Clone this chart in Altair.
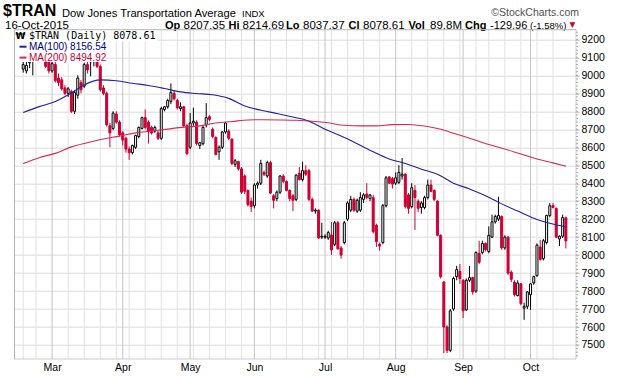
import altair as alt
import pandas as pd

# ---------------- data ----------------
first_index = -9  # trading-day index of first bar (0 = 2-Mar-2015)
opens = [9035, 9025, 9070, 9080, 9100, 9140, 9160, 9120, 9080,
         9025, 9060, 8985, 8975, 8930, 8900, 8910, 8800, 8890, 8960,
         8940, 9060, 9075, 9085, 9090, 9050, 8930, 8900, 8720, 8705,
         8785, 8740, 8680, 8650, 8590, 8570, 8600, 8660, 8705, 8765,
         8740, 8710, 8690, 8680, 8650, 8810, 8825, 8855, 8900, 8860,
         8815, 8825, 8720, 8600, 8735, 8740, 8610, 8620, 8725, 8770,
         8700, 8655, 8575, 8600, 8685, 8690, 8645, 8505, 8520, 8480,
         8440, 8360, 8300, 8275, 8390, 8400, 8460, 8440, 8515, 8330,
         8315, 8350, 8440, 8410, 8360, 8330, 8310, 8455, 8420, 8470,
         8470, 8310, 8245, 8250, 8100, 8100, 8095, 8112, 8060, 8180,
         8040, 8070, 8200, 8250, 8310, 8245, 8250, 8310, 8340, 8315,
         8320, 8165, 8060, 8070, 8275, 8435, 8425, 8400, 8405, 8440,
         8450, 8335, 8270, 8360, 8300, 8265, 8265, 8320, 8390, 8360,
         8300, 8110, 7850, 7600, 7470, 7700, 7880, 7910, 7860, 7695,
         7860, 7875, 7800, 8010, 8015, 8065, 8020, 8100, 8185, 8200,
         8215, 8040, 8100, 7905, 7850, 7775, 7840, 7705, 7715, 7780,
         7845, 7885, 8045, 7980, 8070, 8220, 8275, 8260, 8090, 8105,
         8207.35]
highs = [9090, 9085, 9100, 9130, 9150, 9180, 9190, 9140, 9100,
         9090, 9075, 9010, 8990, 8945, 8935, 8920, 8915, 9000, 8975,
         9070, 9075, 9095, 9110, 9110, 9060, 8945, 8910, 8735, 8800,
         8800, 8750, 8690, 8660, 8605, 8615, 8670, 8715, 8770, 8810,
         8750, 8720, 8720, 8690, 8825, 8830, 8870, 8955, 8915, 8870,
         8850, 8830, 8730, 8790, 8820, 8750, 8630, 8720, 8845, 8780,
         8710, 8660, 8610, 8690, 8740, 8700, 8650, 8535, 8525, 8490,
         8450, 8365, 8320, 8400, 8410, 8530, 8470, 8525, 8525, 8340,
         8360, 8445, 8450, 8415, 8365, 8340, 8450, 8490, 8520, 8500,
         8480, 8320, 8260, 8255, 8180, 8115, 8135, 8184, 8190, 8190,
         8050, 8190, 8300, 8330, 8320, 8315, 8350, 8345, 8400, 8340,
         8335, 8175, 8070, 8285, 8440, 8440, 8435, 8460, 8500, 8540,
         8455, 8345, 8400, 8390, 8310, 8300, 8330, 8420, 8420, 8365,
         8305, 8115, 7855, 7610, 7700, 7880, 7940, 7950, 7865, 7870,
         7940, 7880, 8020, 8080, 8080, 8070, 8160, 8225, 8225, 8325,
         8220, 8110, 8105, 7915, 7860, 7860, 7845, 7735, 7800, 7845,
         7885, 8065, 8085, 8090, 8225, 8290, 8290, 8265, 8110, 8225,
         8214.69]
lows = [9015, 9010, 9040, 9000, 9085, 9110, 9120, 9040, 9010,
        9015, 8960, 8940, 8915, 8890, 8880, 8790, 8785, 8870, 8900,
        8930, 9010, 8995, 9050, 9040, 8910, 8890, 8715, 8600, 8695,
        8730, 8660, 8610, 8570, 8530, 8560, 8590, 8650, 8700, 8700,
        8620, 8670, 8680, 8640, 8640, 8800, 8815, 8840, 8860, 8810,
        8800, 8710, 8555, 8590, 8720, 8610, 8590, 8610, 8710, 8745,
        8650, 8555, 8530, 8590, 8675, 8640, 8500, 8490, 8470, 8340,
        8340, 8270, 8240, 8260, 8370, 8390, 8440, 8430, 8340, 8260,
        8300, 8340, 8400, 8355, 8300, 8245, 8300, 8415, 8410, 8440,
        8300, 8240, 8230, 8090, 8090, 8090, 8085, 8001, 8050, 8030,
        7980, 8060, 8190, 8240, 8240, 8235, 8240, 8290, 8310, 8300,
        8120, 8045, 8025, 8060, 8265, 8395, 8370, 8390, 8395, 8420,
        8260, 8230, 8260, 8140, 8240, 8230, 8255, 8310, 8350, 8300,
        8105, 7870, 7455, 7455, 7460, 7690, 7860, 7840, 7650, 7690,
        7850, 7780, 7790, 7950, 8005, 8020, 8010, 8095, 8175, 8190,
        8030, 8030, 7890, 7850, 7770, 7770, 7720, 7640, 7700, 7695,
        7835, 7880, 7970, 7970, 8060, 8210, 8260, 8095, 8050, 8095,
        8037.37]
closes = [9060, 9055, 9090, 9095, 9140, 9165, 9130, 9050, 9025,
          9065, 8970, 8960, 8925, 8900, 8925, 8800, 8905, 8985, 8920,
          9060, 9030, 9085, 9095, 9050, 8920, 8900, 8725, 8680, 8790,
          8740, 8670, 8640, 8590, 8570, 8610, 8665, 8710, 8765, 8710,
          8690, 8680, 8710, 8650, 8815, 8825, 8860, 8905, 8870, 8820,
          8825, 8720, 8565, 8735, 8745, 8620, 8625, 8710, 8765, 8755,
          8660, 8560, 8600, 8685, 8735, 8650, 8510, 8525, 8480, 8350,
          8355, 8280, 8270, 8390, 8400, 8510, 8450, 8515, 8345, 8305,
          8350, 8440, 8410, 8360, 8315, 8305, 8445, 8420, 8470, 8450,
          8310, 8245, 8250, 8095, 8105, 8105, 8125, 8029, 8180, 8035,
          8000, 8180, 8290, 8310, 8250, 8305, 8320, 8335, 8320, 8335,
          8130, 8075, 8050, 8275, 8430, 8400, 8395, 8430, 8460, 8450,
          8270, 8260, 8375, 8320, 8260, 8290, 8320, 8390, 8355, 8310,
          8110, 7880, 7600, 7470, 7690, 7870, 7920, 7870, 7690, 7860,
          7875, 7795, 8015, 7960, 8065, 8030, 8110, 8185, 8215, 8220,
          8040, 8100, 7900, 7865, 7780, 7845, 7730, 7715, 7795, 7840,
          7880, 8055, 7975, 8080, 8220, 8275, 8265, 8100, 8105, 8208.57,
          8078.61]

ma100_idx = [-9, -4, 1, 6, 10, 15, 20, 25, 30, 35, 40, 45, 50, 55, 60, 65, 70, 75,
             80, 85, 90, 95, 100, 105, 110, 115, 120, 125, 130, 135, 140, 145, 150,
             155, 160]
ma100_val = [8793, 8826, 8855, 8902, 8947, 8975, 8970, 8956, 8944, 8927, 8908, 8899,
             8892, 8872, 8830, 8806, 8788, 8768, 8745, 8700, 8662, 8620, 8575, 8535,
             8510, 8478, 8450, 8400, 8368, 8330, 8285, 8245, 8205, 8177, 8156.54]
ma200_idx = [-9, -4, 1, 6, 11, 16, 21, 26, 31, 36, 41, 46, 51, 56, 61, 66, 71, 76,
             81, 86, 91, 96, 101, 106, 111, 116, 121, 126, 131, 136, 141, 146, 151,
             156, 160]
ma200_val = [8509, 8542, 8566, 8602, 8625, 8646, 8662, 8680, 8690, 8701, 8712, 8719,
             8735, 8743, 8752, 8753, 8752, 8750, 8745, 8736, 8722, 8719, 8719, 8726,
             8727, 8718, 8700, 8672, 8645, 8615, 8590, 8562, 8535, 8513, 8494.92]

month_idx = [0, 22, 43, 63, 85, 107, 128, 149]
month_lbl = ["Mar", "Apr", "May", "Jun", "Jul", "Aug", "Sep", "Oct"]
week_idx = [-9, -5, 5, 10, 15, 20, 24, 29, 34, 39, 44, 49, 54, 59, 68, 73, 78, 83,
            87, 92, 97, 102, 112, 117, 122, 127, 132, 136, 141, 146, 151, 156]
y_ticks = list(range(7500, 9201, 100))
minor_ticks = list(range(7440, 9254, 20))

symbol = "$TRAN"
index_name = "Dow Jones Transportation Average"
exchange = "INDX"
date_text = "16-Oct-2015"
volume_text = "89.8M"

# ---------------- layout ----------------
L, T = 14.5, 29.7          # plot origin on the page
W, H = 561.5, 329.3         # plot area size
RED = "#cc0033"
NAVY = "#222299"
MARED = "#d42a55"
FONT = "Liberation Sans"

n = len(opens)
df = pd.DataFrame({"i": list(range(first_index, first_index + n)),
                   "o": opens, "h": highs, "l": lows, "c": closes})
one = pd.DataFrame({"a": [0]})

xs = alt.Scale(domain=[-10.15, 161.6], nice=False, zero=False)
ys = alt.Scale(domain=[7422, 9254], nice=False, zero=False)

label_expr = " : ".join(f"datum.value == {v} ? '{m}'" for v, m in zip(month_idx, month_lbl)) + " : ''"
xaxis = alt.Axis(values=month_idx, labelExpr=label_expr, grid=False, ticks=False, domain=False,
                 labelFont=FONT, labelFontSize=10.5, labelColor="#000000", labelPadding=3,
                 labelFlush=False, labelOverlap=False, title=None)
yaxis = alt.Axis(orient="right", values=y_ticks, grid=True, gridColor="#dcdcdc", gridWidth=1,
                 ticks=True, tickSize=3, tickColor="#aaaaaa", domain=False, labelFont=FONT,
                 labelFontSize=10.5, labelColor="#000000", labelPadding=2, title=None, format="d")

up = alt.datum.c >= alt.datum.o

weeks = alt.Chart(pd.DataFrame({"w": week_idx})).mark_rule(color="#e2e2e2", strokeWidth=1).encode(
    x=alt.X("w:Q", scale=xs, axis=xaxis), y=alt.value(0), y2=alt.value(H))
months = alt.Chart(pd.DataFrame({"m": month_idx})).mark_rule(color="#c4c4c4", strokeWidth=1).encode(
    x=alt.X("m:Q", scale=xs, axis=xaxis), y=alt.value(0), y2=alt.value(H))

wicks = alt.Chart(df).mark_rule(strokeWidth=1).encode(
    x=alt.X("i:Q", scale=xs, axis=xaxis),
    y=alt.Y("l:Q", scale=ys, axis=yaxis), y2="h:Q",
    color=alt.condition(up, alt.value("#000000"), alt.value(RED)))
bodies = alt.Chart(df).mark_bar(size=2, strokeWidth=1).encode(
    x=alt.X("i:Q", scale=xs, axis=xaxis),
    y=alt.Y("o:Q", scale=ys, axis=yaxis), y2="c:Q",
    fill=alt.condition(up, alt.value("#ffffff"), alt.value(RED)),
    stroke=alt.condition(up, alt.value("#000000"), alt.value(RED)))

ma100 = alt.Chart(pd.DataFrame({"i": ma100_idx, "v": ma100_val})).mark_line(
    color=NAVY, strokeWidth=1.1, interpolate="monotone").encode(
    x=alt.X("i:Q", scale=xs, axis=xaxis), y=alt.Y("v:Q", scale=ys, axis=yaxis))
ma200 = alt.Chart(pd.DataFrame({"i": ma200_idx, "v": ma200_val})).mark_line(
    color=MARED, strokeWidth=1.1, interpolate="monotone").encode(
    x=alt.X("i:Q", scale=xs, axis=xaxis), y=alt.Y("v:Q", scale=ys, axis=yaxis))

minor = alt.Chart(pd.DataFrame({"t": minor_ticks})).mark_rule(color="#aaaaaa").encode(
    y=alt.Y("t:Q", scale=ys, axis=yaxis), x=alt.value(W), x2=alt.value(W + 2))


def box(x0, x1, y0, y1):
    return alt.Chart(one).mark_rect(fill="white").encode(
        x=alt.value(x0 - L), x2=alt.value(x1 - L), y=alt.value(y0 - T), y2=alt.value(y1 - T))


def label(txt, x, y, size=12, weight="normal", color="#000000", align="left",
          baseline="alphabetic", font=FONT):
    return alt.Chart(one).mark_text(text=txt, fontSize=size, fontWeight=weight, color=color,
                                    align=align, baseline=baseline, font=font).encode(
        x=alt.value(x - L), y=alt.value(y - T))


def hline(x0, x1, y, color, width=1, dash=None):
    kw = dict(color=color, strokeWidth=width)
    if dash:
        kw["strokeDash"] = dash
    return alt.Chart(one).mark_rule(**kw).encode(
        x=alt.value(x0 - L), x2=alt.value(x1 - L), y=alt.value(y - T))


def vline(x, y0, y1, color, width=1, dash=None):
    kw = dict(color=color, strokeWidth=width)
    if dash:
        kw["strokeDash"] = dash
    return alt.Chart(one).mark_rule(**kw).encode(
        x=alt.value(x - L), y=alt.value(y0 - T), y2=alt.value(y1 - T))


chg = closes[-1] - closes[-2]
pct = chg / closes[-2] * 100

legend = [
    box(L, 158, T, 41.5),
    box(L, 105, T, 62),
    label("\u20a9", 15.5, 36, size=9, weight="bold", baseline="middle", font="DejaVu Sans"),
    label(f"{symbol} (Daily) {closes[-1]:.2f}", 29, 36, size=10, baseline="middle",
          font="DejaVu Sans Mono"),
    hline(19.5, 26.5, 46.7, NAVY, 2),
    label(f"MA(100) {ma100_val[-1]:.2f}", 29, 46.7, size=10, color="#000080", baseline="middle"),
    hline(19.5, 26.5, 57.6, MARED, 2),
    label(f"MA(200) {ma200_val[-1]:.2f}", 29, 57.6, size=10, color=RED, baseline="middle"),
]

LINE2 = 28.6
header = [
    label(symbol, 3, 16, size=16, weight="bold"),
    label(index_name, 62, 16.5, size=11.2),
    label(exchange, 242, 16.5, size=9.5),
    label("\u00a9StockCharts.com", 579, 16, size=10.5, color="#505050", align="right"),
    label(date_text, 5, LINE2, size=11.5),
]
pieces = [("Op", 165, 11, True), (f"{opens[-1]:.2f}", 183.5, 11.5, False),
          ("Hi", 228.5, 11, True), (f"{highs[-1]:.2f}", 242.5, 11.5, False),
          ("Lo", 286, 11, True), (f"{lows[-1]:.2f}", 303, 11.5, False),
          ("Cl", 348.5, 11, True), (f"{closes[-1]:.2f}", 363, 11.5, False),
          ("Vol", 408.6, 11, True), (volume_text, 430, 11.5, False),
          ("Chg", 465, 11, True), (f"{chg:.2f}", 490, 11, False),
          (f"({pct:.2f}%)", 530, 9.5, False)]
for txt, x, sz, b in pieces:
    header.append(label(txt, x, LINE2, size=sz, weight="bold" if b else "normal"))
header.append(label("\u25bc", 572.5, 24.5, size=7.5, color=RED, align="center", baseline="middle",
                    font="DejaVu Sans"))

border = [
    hline(L, L + W, T, "#b4b4b4"),
    vline(L, T, T + H, "#b4b4b4"),
    hline(L, L + W, T + H, "#9a9a9a", 1, [1, 1]),
    vline(L + W, T, T + H, "#9a9a9a", 1, [1, 1]),
]

chart = alt.layer(weeks, months, wicks, bodies, ma200, ma100, minor, *legend, *header, *border).properties(
    width=W, height=H,
    autosize=alt.AutoSizeParams(type="none"),
    padding={"left": L, "top": T, "right": 620 - L - W, "bottom": 376 - T - H},
    background="white",
).configure_view(strokeWidth=0)

chart.save("out.html", embed_options={"renderer": "svg", "actions": False})
